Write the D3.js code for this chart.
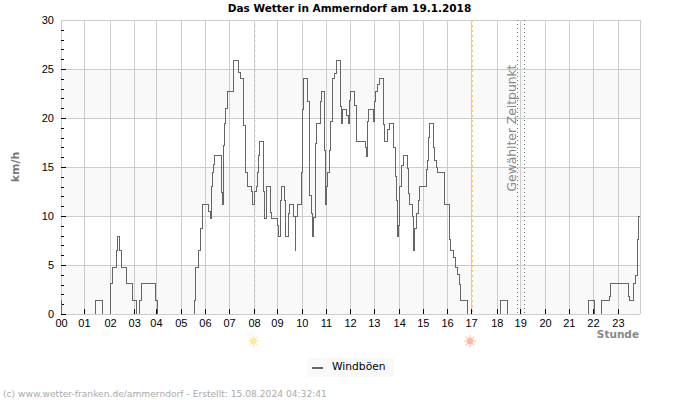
<!DOCTYPE html>
<html>
<head>
<meta charset="utf-8">
<title>Das Wetter in Ammerndorf</title>
<script src="https://d3js.org/d3.v7.min.js"></script>
<style>
html, body { margin: 0; padding: 0; background: #fff; }
svg { display: block; font-family: "DejaVu Sans", sans-serif; }
.grid line { stroke: #ccc; stroke-width: 1; shape-rendering: crispEdges; }
.tick-mark { stroke: #000; stroke-width: 1; shape-rendering: crispEdges; }
.axis text { font-size: 11px; fill: #000; }
.axis path, .axis line { display: none; }
</style>
</head>
<body>
<script>
var width = 700, height = 400;

// minutes of the day where the gust reading changes, and the reading from there on
var gustMinutes = [0,2,87,102,122,127,137,141,146,151,164,179,187,195,199,201,235,240,
  332,335,341,347,351,352,367,371,375,377,380,382,398,400,402,403,407,410,414,428,430,441,446,
  455,458,460,464,474,476,480,485,488,491,493,504,506,510,512,520,524,539,541,545,548,556,558,
  565,568,579,582,584,587,598,600,603,613,617,619,623,625,629,632,635,645,649,655,658,661,664,
  668,671,674,681,684,695,698,701,711,714,717,720,730,734,736,757,759,762,765,776,780,783,788,
  793,801,805,813,816,828,832,834,836,839,841,848,852,862,865,867,873,876,880,884,888,892,908,
  911,913,916,927,930,934,937,954,967,969,975,980,986,990,993,1010,
  1094,1110,1311,1326,1345,1363,1367,1412,1415,1423,1430,1433,1435,1437,1440];
var gustValues = [1.4,0,1.4,0,3.1,4.7,6.5,7.9,6.5,4.7,3.1,1.4,0,1.4,3.1,3.1,1.4,0,
  1.4,4.7,6.5,8.7,9.7,11.2,10.5,9.7,13,14.4,15.3,16.2,14.4,12.4,11.2,17.2,19.4,21,22.7,25,25.9,24.6,24,
  19.2,16.4,14.4,13,12.5,11.2,12.5,13,14.4,16.2,17.6,12.5,9.7,11.5,13,10.4,9.7,9,7.9,11.6,13,11.6,7.9,
  10.3,11.2,10,6.5,10,11.2,14.4,20.9,24,21.7,16.7,12.1,10.3,7.9,9.8,17.4,19.4,21.7,22.7,16.7,11.2,13,14.4,
  16.7,19.6,24,24.5,25.9,21.2,19.4,20.9,20.3,19.4,21.8,22.7,21.3,18.8,17.6,17,16.1,19.6,20.9,19.6,21.7,22.7,23.4,
  24,19.3,17.6,18.8,19.4,17,14,11.6,7.9,9,13,15.2,16.2,14.8,12.3,11.2,10,6.5,8.7,10.3,11.6,13,14.7,
  15.7,18,19.4,17,15.7,14.9,14.4,11.2,7.6,6.5,5.8,4.7,4,3,1.4,0,
  1.4,0,1.4,0,1.4,1.8,3.1,1.8,1.4,3.1,3.9,5.5,7.6,10,10];

// the hour ticks sit on recorded times, so they are not quite evenly spaced
var hourTicks = [0,57,122,182,236,298,358,418,480,537,599,659,719,778,841,900,960,1020,1084,1142,1204,1263,1323,1385];
var hourLabels = ['00','01','02','03','04','05','06','07','08','09','10','11','12','13','14','15','16','17','18','19','20','21','22','23'];
var kmhTicks = [0,5,10,15,20,25,30];
var kmhMinor = d3.range(0, 30);
var bands = [[20,25],[10,15],[0,5]];
var sunrise = 482, sunset = 1021;
var selected = [1135,1152];

var left = 61, right = 640, top_ = 20, bottom = 314;

var x = d3.scaleLinear().domain([0,1440]).range([left,right]);
var y = d3.scaleLinear().domain([0,30]).range([bottom,top_]);

var svg = d3.select('body').append('svg')
  .attr('width', width)
  .attr('height', height);

// readings of zero lie on the axis and do not show
svg.append('clipPath').attr('id','plot')
  .append('rect')
  .attr('x', left).attr('y', top_)
  .attr('width', right-left).attr('height', bottom-top_);

svg.selectAll('rect.band')
  .data(bands)
  .enter().append('rect')
  .attr('class','band')
  .attr('x', left)
  .attr('width', right-left)
  .attr('y', function (d) { return y(d[1]); })
  .attr('height', function (d) { return y(d[0])-y(d[1]); })
  .style('fill','#f9f9f9');

var grid = svg.append('g').attr('class','grid');
grid.selectAll('line.h')
  .data(kmhTicks)
  .enter().append('line')
  .attr('class','h')
  .attr('x1', left).attr('x2', right)
  .attr('y1', function (d) { return Math.round(y(d))+0.5; })
  .attr('y2', function (d) { return Math.round(y(d))+0.5; });
grid.selectAll('line.v')
  .data(hourTicks.concat([1440]))
  .enter().append('line')
  .attr('class','v')
  .attr('y1', top_).attr('y2', bottom)
  .attr('x1', function (d) { return Math.round(x(d))+0.5; })
  .attr('x2', function (d) { return Math.round(x(d))+0.5; });

// sunrise, sunset and selected time
svg.append('line')
  .attr('x1', x(sunrise)+0.5).attr('x2', x(sunrise)+0.5)
  .attr('y1', top_).attr('y2', bottom)
  .style('stroke','#f7f3a0').style('stroke-dasharray','2,3').style('shape-rendering','crispEdges');
svg.append('line')
  .attr('x1', x(sunset)+0.5).attr('x2', x(sunset)+0.5)
  .attr('y1', top_).attr('y2', bottom)
  .style('stroke','#fdc468').style('stroke-dasharray','2,3').style('shape-rendering','crispEdges');
svg.selectAll('line.sel')
  .data(selected)
  .enter().append('line')
  .attr('class','sel')
  .attr('x1', function (d) { return Math.round(x(d))+0.5; })
  .attr('x2', function (d) { return Math.round(x(d))+0.5; })
  .attr('y1', top_).attr('y2', bottom)
  .style('stroke','#777').style('stroke-dasharray','1,3').style('shape-rendering','crispEdges');

svg.append('text')
  .attr('transform','translate(516,128) rotate(-90)')
  .attr('text-anchor','middle')
  .style('font-size','12.3px')
  .style('fill','#888')
  .text('Gewählter Zeitpunkt');

// tick marks drawn inside the plot
svg.selectAll('line.ty')
  .data(kmhMinor)
  .enter().append('line')
  .attr('class','tick-mark ty')
  .attr('x1', left)
  .attr('x2', function (d) { return d%5===0 ? left+5 : left+3; })
  .attr('y1', function (d) { return Math.round(y(d))+0.5; })
  .attr('y2', function (d) { return Math.round(y(d))+0.5; });
svg.selectAll('line.tx')
  .data(hourTicks)
  .enter().append('line')
  .attr('class','tick-mark tx')
  .attr('y1', bottom).attr('y2', bottom-5)
  .attr('x1', function (d) { return Math.round(x(d))+0.5; })
  .attr('x2', function (d) { return Math.round(x(d))+0.5; });

var line = d3.line()
  .x(function (d) { return x(d.m); })
  .y(function (d) { return y(d.v); })
  .curve(d3.curveStepAfter);

var gust = gustMinutes.map(function (m, i) { return {m: m, v: gustValues[i]}; });

svg.append('path')
  .datum(gust)
  .attr('d', line)
  .attr('clip-path','url(#plot)')
  .style('fill','none')
  .style('stroke','#666')
  .style('stroke-width',1)
  .style('shape-rendering','crispEdges');

var xAxis = d3.axisBottom(x)
  .tickValues(hourTicks)
  .tickFormat(function (d, i) { return hourLabels[i]; })
  .tickSize(0).tickPadding(5);
svg.append('g').attr('class','axis')
  .attr('transform','translate(0,'+bottom+')')
  .call(xAxis);

var yAxis = d3.axisLeft(y)
  .tickValues(kmhTicks)
  .tickSize(0).tickPadding(7);
svg.append('g').attr('class','axis')
  .attr('transform','translate('+left+',0)')
  .call(yAxis);

svg.append('text')
  .attr('x',349.5).attr('y',12)
  .attr('text-anchor','middle')
  .style('font-size','10.5px').style('font-weight','bold')
  .text('Das Wetter in Ammerndorf am 19.1.2018');

svg.append('text')
  .attr('transform','translate(19,167) rotate(-90)')
  .attr('text-anchor','middle')
  .style('font-size','11px').style('font-weight','bold').style('fill','#777')
  .text('km/h');

svg.append('text')
  .attr('x',639).attr('y',338)
  .attr('text-anchor','end')
  .style('font-size','10.5px').style('font-weight','bold').style('fill','#888')
  .text('Stunde');

// sun symbols under the axis
var suns = [{m: sunrise, fill: '#ffe9a0'}, {m: sunset, fill: '#ffb9a0'}];
var rays = d3.range(0, 360, 45);
suns.forEach(function (s) {
  var g = svg.append('g').attr('transform','translate('+(x(s.m)-1.5)+',341)');
  g.append('circle').attr('r',3.5).style('fill',s.fill);
  g.selectAll('line')
    .data(rays)
    .enter().append('line')
    .attr('x1',4).attr('x2',6)
    .attr('transform', function (d) { return 'rotate('+d+')'; })
    .style('stroke',s.fill).style('stroke-width',1);
});

// legend
svg.append('rect')
  .attr('x',307).attr('y',358).attr('width',87).attr('height',19)
  .style('fill','#f9f9f9');
svg.append('line')
  .attr('x1',312).attr('x2',323).attr('y1',368).attr('y2',368)
  .style('stroke','#666').style('stroke-width',2);
svg.append('text')
  .attr('x',332).attr('y',370)
  .style('font-size','10.7px')
  .text('Windböen');

svg.append('text')
  .attr('x',3).attr('y',397)
  .style('font-size','9.15px').style('fill','#aaa')
  .text('(c) www.wetter-franken.de/ammerndorf - Erstellt: 15.08.2024 04:32:41');
</script>
</body>
</html>
